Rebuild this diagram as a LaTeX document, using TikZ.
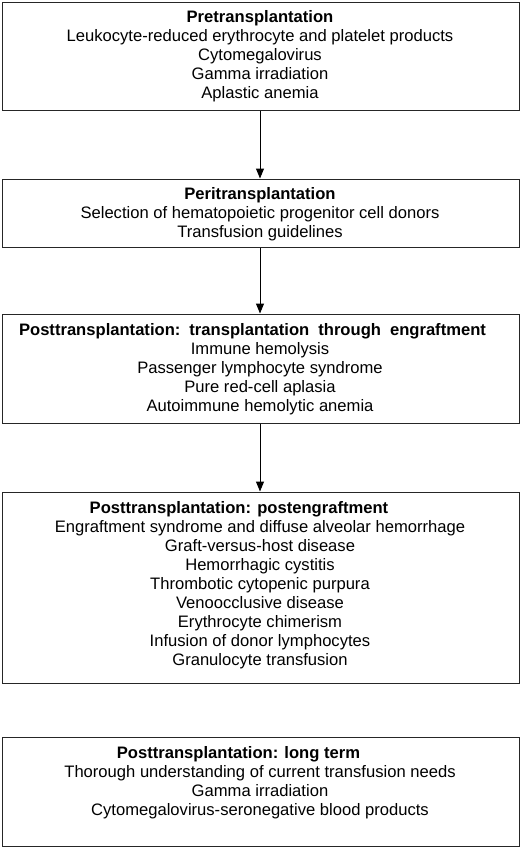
\documentclass[tikz,border=0pt]{standalone}
\usepackage{fontspec}
\setmainfont{Liberation Sans}
\usetikzlibrary{arrows.meta}
\begin{document}
\begin{tikzpicture}[x=1pt,y=-1pt,
  stagebox/.style={draw=black!85,line width=1pt,inner sep=0pt,minimum width=517pt,fill=white},
  stagetext/.style={align=center,inner sep=0pt,font=\fontsize{16.6}{19}\selectfont},
  flow/.style={line width=1pt,-{Triangle[width=8pt,length=10pt]}}]
\useasboundingbox (0,0) rectangle (520,847);
\node[stagebox,minimum height=108pt] (b1) at (260.5,56) {};
\node[stagebox,minimum height=68pt] (b2) at (260.5,213) {};
\node[stagebox,minimum height=109pt] (b3) at (260.5,368.5) {};
\node[stagebox,minimum height=191pt] (b4) at (260.5,587.5) {};
\node[stagebox,minimum height=109pt] (b5) at (260.5,791.5) {};
\node[stagetext] (t1) at (260,56.6) {\textbf{Pretransplantation}\\Leukocyte-reduced erythrocyte and platelet products\\Cytomegalovirus\\Gamma irradiation\\Aplastic anemia};
\node[stagetext] (t2) at (260,214) {\textbf{Peritransplantation}\\Selection of hematopoietic progenitor cell donors\\Transfusion guidelines};
\node[stagetext] (t3) at (260,369) {\hspace*{-15pt}\textbf{Posttransplantation:\hspace{9pt}transplantation\hspace{9pt}through\hspace{9pt}engraftment}\\Immune hemolysis\\Passenger lymphocyte syndrome\\Pure red-cell aplasia\\Autoimmune hemolytic anemia};
\node[stagetext] (t4) at (260,584.7) {\hspace*{-42pt}\textbf{Posttransplantation: postengraftment}\\Engraftment syndrome and diffuse alveolar hemorrhage\\Graft-versus-host disease\\Hemorrhagic cystitis\\Thrombotic cytopenic purpura\\Venoocclusive disease\\Erythrocyte chimerism\\Infusion of donor lymphocytes\\Granulocyte transfusion};
\node[stagetext] (t5) at (260,782.5) {\hspace*{-43pt}\textbf{Posttransplantation: long term}\\Thorough understanding of current transfusion needs\\Gamma irradiation\\Cytomegalovirus-seronegative blood products};
\draw[flow] (b1.south -| 260,0) -- (b2.north -| 260,0);
\draw[flow] (b2.south -| 260,0) -- (b3.north -| 260,0);
\draw[flow] (b3.south -| 260,0) -- (b4.north -| 260,0);
\end{tikzpicture}
\end{document}
